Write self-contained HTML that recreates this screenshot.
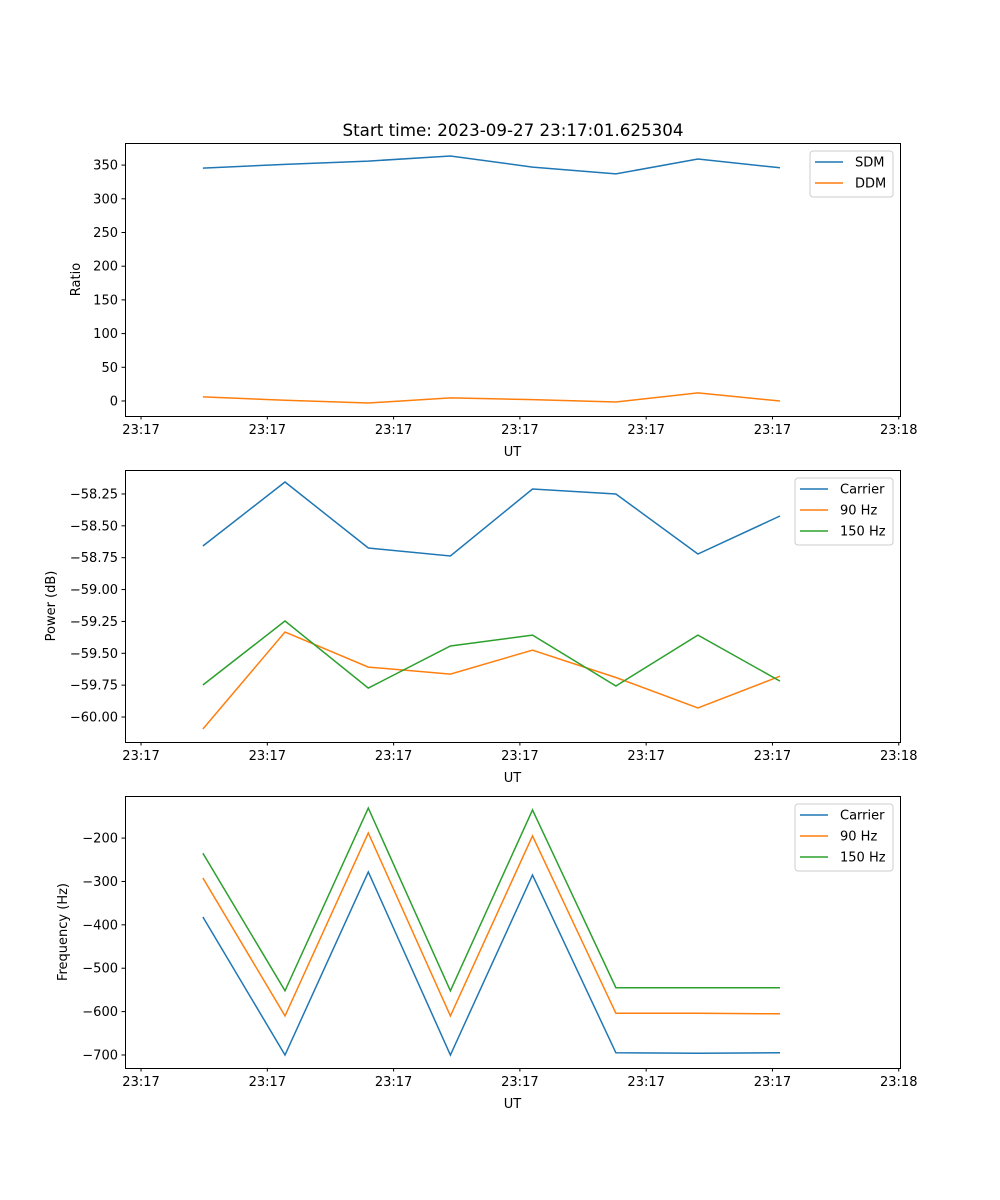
<!DOCTYPE html>
<html><head><meta charset="utf-8"><style>
html,body{margin:0;padding:0;background:#fff}
svg{display:block;font-family:"DejaVu Sans","Liberation Sans",sans-serif}
</style></head><body>
<svg id="fig" width="1000" height="1200" viewBox="0 0 1000 1200"></svg>
<script>
// data: times in seconds after 23:17:00
const times = [4.9, 11.4, 18.0, 24.5, 31.0, 37.6, 44.1, 50.6];
const xTickVals = [0, 10, 20, 30, 40, 50, 60];
const xTickLabels = ["23:17","23:17","23:17","23:17","23:17","23:17","23:18"];
const sdm = [345.6, 351, 356, 363.5, 347, 337, 359, 346];
const ddm = [6, 1, -3, 4.5, 2, -1.5, 12, 0];
const ratioTicks = [0, 50, 100, 150, 200, 250, 300, 350];
const powCarrier = [-58.658, -58.156, -58.674, -58.737, -58.211, -58.25, -58.721, -58.423];
const pow90 = [-60.094, -59.333, -59.608, -59.663, -59.475, -59.69, -59.929, -59.68];
const pow150 = [-59.749, -59.247, -59.773, -59.443, -59.357, -59.757, -59.357, -59.718];
const powTicks = [-60.0, -59.75, -59.5, -59.25, -59.0, -58.75, -58.5, -58.25];
const freqCarrier = [-382, -700, -278, -700, -285, -695, -696, -695];
const freq90 = [-292, -610, -188, -610, -195, -604, -604, -605];
const freq150 = [-235, -552, -131, -552, -135, -545, -545, -545];
const freqTicks = [-700, -600, -500, -400, -300, -200];

const NS = "http://www.w3.org/2000/svg";
const svg = document.getElementById("fig");
function mk(tag, attrs, parent, name, inter) {
  const e = document.createElementNS(NS, tag);
  for (const k in attrs) e.setAttribute(k, attrs[k]);
  
  
  (parent || svg).appendChild(e);
  return e;
}
const L = 125, R = 900, XMIN = -1.27, XMAX = 60.1;
const xs = t => L + (t - XMIN) / (XMAX - XMIN) * (R - L);
const fmtNum = (v, d) => { const s = Math.abs(v).toFixed(d); return v < 0 ? "\u2212" + s : s; };
const colors = ["#1f77b4", "#ff7f0e", "#2ca02c"];

function panel(id, top, bot, ymin, ymax, yticks, dec, ylabel, ylabelX, series, names, legend) {
  const g = mk("g", {}, svg, id + "-panel", false);
  const ys = v => bot - (v - ymin) / (ymax - ymin) * (bot - top);
  series.forEach((s, i) => {
    mk("polyline", {
      points: s.map((v, j) => xs(times[j]).toFixed(1) + "," + ys(v).toFixed(1)).join(" "),
      fill: "none", stroke: colors[i], "stroke-width": 1.5
    }, g, id + "-line-" + names[i].toLowerCase().replace(/\s+/g, "-"), false);
  });
  mk("rect", {x: L + 0.5, y: top + 0.5, width: R - L, height: bot - top, fill: "none", stroke: "#000", "stroke-width": 1}, g, id + "-axes-frame", false);
  xTickVals.forEach((t, i) => {
    const x = xs(t);
    mk("line", {x1: x, x2: x, y1: bot, y2: bot + 3.5, stroke: "#000", "stroke-width": 1}, g, id + "-x-tick", false);
    const tx = mk("text", {x: x, y: bot + 18, "text-anchor": "middle", "font-size": 13}, g, id + "-x-tick-label", false);
    tx.textContent = xTickLabels[i];
  });
  const xl = mk("text", {x: (L + R) / 2, y: bot + 40, "text-anchor": "middle", "font-size": 13}, g, id + "-x-axis-title", false);
  xl.textContent = "UT";
  yticks.forEach(v => {
    const y = ys(v);
    mk("line", {x1: L - 3.5, x2: L, y1: y, y2: y, stroke: "#000", "stroke-width": 1}, g, id + "-y-tick", false);
    const ty = mk("text", {x: L - 7, y: y + 4.5, "text-anchor": "end", "font-size": 13}, g, id + "-y-tick-label", false);
    ty.textContent = fmtNum(v, dec);
  });
  const yl = mk("text", {x: ylabelX, y: (top + bot) / 2, "text-anchor": "middle", "font-size": 13,
    transform: "rotate(-90 " + ylabelX + " " + (top + bot) / 2 + ")"}, g, id + "-y-axis-title", false);
  yl.textContent = ylabel;
  const lg = mk("g", {}, g, id + "-legend", false);
  mk("rect", {x: legend.x, y: legend.y, width: legend.w, height: names.length * 21 + 4, rx: 3,
    fill: "#fff", "fill-opacity": 0.8, stroke: "#ccc", "stroke-width": 1}, lg, id + "-legend-box", false);
  names.forEach((n, i) => {
    const cy = legend.y + 11 + i * 21;
    mk("line", {x1: legend.x + 5, x2: legend.x + 33, y1: cy, y2: cy, stroke: colors[i], "stroke-width": 1.5}, lg, id + "-legend-swatch", false);
    const t = mk("text", {x: legend.x + 45, y: cy + 4.5, "font-size": 13}, lg, id + "-legend-entry", false);
    t.textContent = n;
  });
}

const title = mk("text", {x: 513, y: 136, "text-anchor": "middle", "font-size": 16.7}, svg, "chart-title", false);
title.textContent = "Start time: 2023-09-27 23:17:01.625304";

panel("ratio", 143, 416, -22.3, 382.8, ratioTicks, 0, "Ratio", 80, [sdm, ddm], ["SDM", "DDM"], {x: 810, y: 151, w: 83});
panel("power", 470, 742, -60.196, -58.062, powTicks, 2, "Power (dB)", 55, [powCarrier, pow90, pow150], ["Carrier", "90 Hz", "150 Hz"], {x: 795, y: 478, w: 98});
panel("frequency", 796, 1068, -730, -103, freqTicks, 0, "Frequency (Hz)", 67, [freqCarrier, freq90, freq150], ["Carrier", "90 Hz", "150 Hz"], {x: 795, y: 804, w: 98});
</script>
</body></html>
